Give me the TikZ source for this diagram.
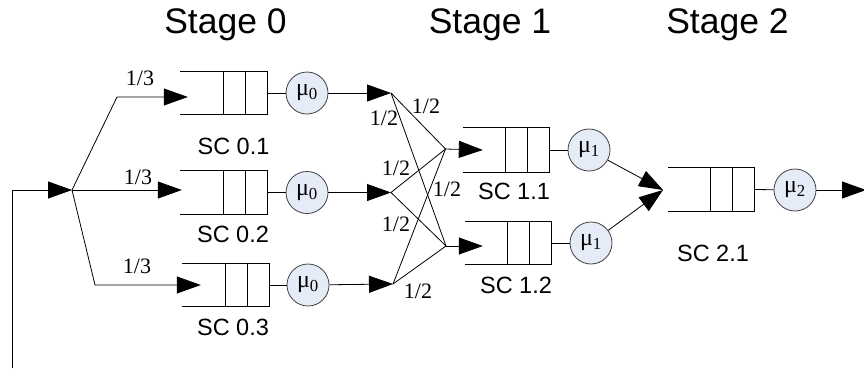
\documentclass[tikz,border=0pt]{standalone}
\usepackage{fontspec}
\setmainfont{Liberation Serif}
\setsansfont{Liberation Sans}
\usetikzlibrary{arrows.meta}

\definecolor{srvfill}{RGB}{230,236,247}
\definecolor{srvline}{RGB}{64,64,64}

\tikzset{
  wire/.style={line width=0.8pt},
  arr/.style={wire,-{Triangle[length=24pt,width=17pt]}},
  server/.style={circle, draw=srvline, fill=srvfill, line width=0.8pt,
    minimum size=42pt, inner sep=0pt, font=\fontsize{24}{24}\selectfont},
  queuebox/.style={minimum width=87pt, minimum height=43pt, inner sep=0pt},
  sclabel/.style={anchor=base, inner sep=0pt, font=\sffamily\fontsize{23.5}{24}\selectfont},
  stagelabel/.style={anchor=base, inner sep=0pt, font=\sffamily\fontsize{35.5}{36}\selectfont},
  prob/.style={anchor=base, inner sep=0pt, font=\fontsize{22}{22}\selectfont},
}

% open-ended queue: top, right and bottom edges plus two slot dividers
\newcommand\drawqueue[1]{%
  \draw[wire] (#1.north west) -- (#1.north east) -- (#1.south east) -- (#1.south west);
  \draw[wire] ([xshift=-44pt]#1.north east) -- ([xshift=-44pt]#1.south east);
  \draw[wire] ([xshift=-22pt]#1.north east) -- ([xshift=-22pt]#1.south east);}

\begin{document}
\begin{tikzpicture}[x=1pt,y=-1pt]
\useasboundingbox (0,0) rectangle (864,370);

% stage headings
\node[stagelabel] (st0) at (225.5,33) {Stage 0};
\node[stagelabel] (st1) at (490,33) {Stage 1};
\node[stagelabel] (st2) at (727.5,33) {Stage 2};

% stage 0 queues and servers
\node[queuebox] (q01) at (223.5,93) {};
\node[queuebox] (q02) at (223.5,192.5) {};
\node[queuebox] (q03) at (225.5,285) {};
\drawqueue{q01}\drawqueue{q02}\drawqueue{q03}
\node[server] (c01) at (307,93) {μ\textsubscript{0}};
\node[server] (c02) at (307,192.5) {μ\textsubscript{0}};
\node[server] (c03) at (308,285) {μ\textsubscript{0}};
\node[sclabel] (l01) at (233.5,154) {SC 0.1};
\node[sclabel] (l02) at (233,242.5) {SC 0.2};
\node[sclabel] (l03) at (233,335) {SC 0.3};

% stage 1 queues and servers
\node[queuebox, minimum width=86pt, minimum height=44pt] (q11) at (506,150) {};
\node[queuebox, minimum width=86pt, minimum height=42pt] (q12) at (508,243) {};
\drawqueue{q11}\drawqueue{q12}
\node[server] (c11) at (589,150) {μ\textsubscript{1}};
\node[server] (c12) at (591,243) {μ\textsubscript{1}};
\node[sclabel] (l11) at (514,199) {SC 1.1};
\node[sclabel] (l12) at (516,293) {SC 1.2};

% stage 2 queue and server
\node[queuebox, minimum width=86pt] (q21) at (711,189.5) {};
\drawqueue{q21}
\node[server] (c21) at (795,190) {μ\textsubscript{2}};
\node[sclabel] (l21) at (713,261) {SC 2.1};

% routing points
\coordinate (src) at (12,368);
\coordinate (sp) at (72,190);
\coordinate (b1) at (117,97);
\coordinate (b3) at (95,285);
\coordinate (t1) at (391,93);
\coordinate (t2) at (391,192.5);
\coordinate (t3) at (393,284);
\coordinate (m1) at (445.5,149);
\coordinate (m2) at (446,246);
\coordinate (m3) at (663,190);
\coordinate (out) at (866,190);

% arrivals and the equal three-way split
\draw[arr] (src) |- (sp);
\draw[arr] (sp) -- (b1) -- ([shift={(8,4)}]q01.west);
\draw[arr] (sp) -- ([shift={(2,-2.5)}]q02.west);
\draw[arr] (sp) -- (b3) -- ([xshift=19pt]q03.west);
\node[prob] (p1) at (140,85) {1/3};
\node[prob] (p2) at (138,184) {1/3};
\node[prob] (p3) at (137,273) {1/3};

% stage 0 links
\foreach \i in {1,2,3}{
  \draw[wire] (q0\i.east) -- (c0\i);
  \draw[arr] (c0\i) -- (t\i);
}

% routing mesh between stage 0 and stage 1
\foreach \i in {1,2,3}{
  \draw[wire] (t\i) -- (m1);
  \draw[wire] (t\i) -- (m2);
}
\node[prob] (h1) at (426,113) {1/2};
\node[prob] (h2) at (384,125) {1/2};
\node[prob] (h3) at (396,175) {1/2};
\node[prob] (h4) at (447,196) {1/2};
\node[prob] (h5) at (396,231) {1/2};
\node[prob] (h6) at (418,298) {1/2};

% stage 1 links
\draw[arr] (m1) -- ([xshift=20pt]q11.west);
\draw[arr] (m2) -- ([shift={(18,3)}]q12.west);
\draw[wire] (q11.east) -- (c11);
\draw[wire] (q12.east) -- (c12);
\draw[arr] (c11) -- (m3);
\draw[arr] (c12) -- (m3);

% stage 2 links
\draw[wire] (q21.east) -- (c21);
\draw[arr] (c21) -- (out);
\end{tikzpicture}
\end{document}
